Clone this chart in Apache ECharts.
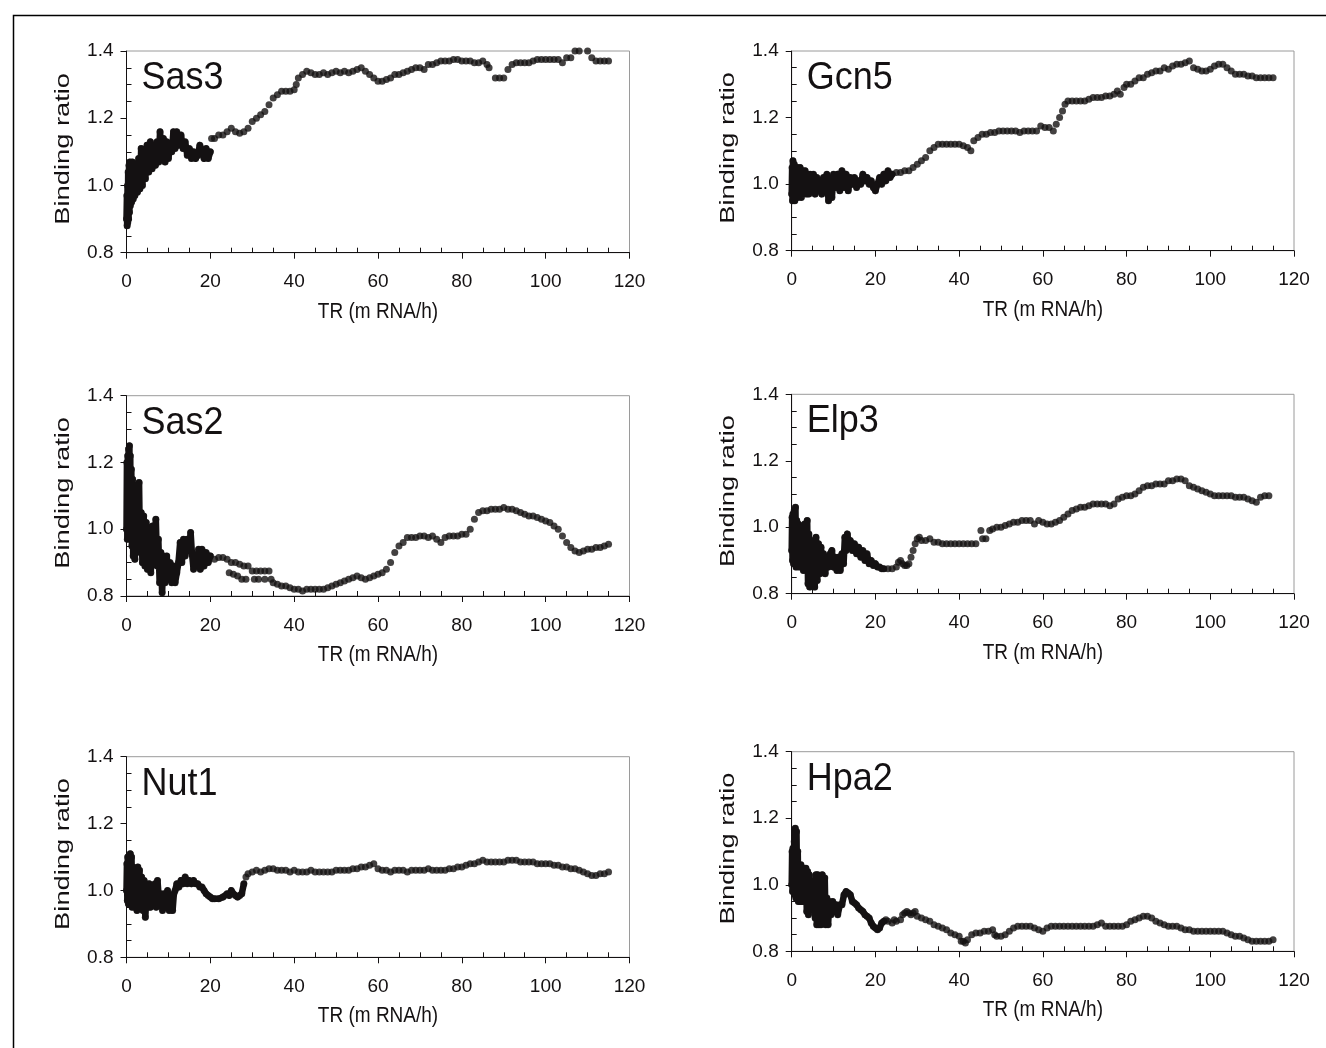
<!DOCTYPE html>
<html>
<head>
<meta charset="utf-8">
<script src="https://cdn.jsdelivr.net/npm/echarts@6/dist/echarts.min.js"></script>
<style>html,body{margin:0;padding:0;background:#fff}#main{width:1326px;height:1048px}</style>
</head>
<body>
<div id="main"></div>
<script>
// running binding ratio vs transcription rate, one array per factor
var sas3 = [[0,0.90],[0.1,0.97],[0.15,0.88],[0.25,1.0],[0.3,0.89],[0.4,1.04],[0.5,0.90],[0.6,1.06],[0.7,0.92],[0.8,1.07],[0.9,0.94],[1.0,1.05],[1.2,0.95],[1.4,1.07],[1.6,0.96],[1.8,1.06],[2.0,0.97],[2.3,1.05],[2.6,0.98],[2.9,1.08],[3.2,0.99],[3.5,1.11],[3.8,1.0],[4.1,1.10],[4.5,1.02],[4.9,1.12],[5.3,1.04],[5.7,1.13],[6.1,1.05],[6.5,1.12],[6.9,1.06],[7.3,1.13],[7.7,1.07],[8.0,1.16],[8.4,1.08],[8.8,1.14],[9.2,1.07],[9.6,1.13],[10,1.08],[10.4,1.12],[10.8,1.10],[11.2,1.16],[11.6,1.11],[12,1.16],[12.5,1.12],[13,1.15],[13.5,1.11],[14,1.13],[14.5,1.09],[15,1.11],[15.5,1.08],[16,1.10],[16.5,1.08],[17,1.09],[17.5,1.12],[18,1.10],[18.5,1.08],[19,1.11],[19.5,1.08],[20,1.10],[20.3,1.14],[21,1.14],[22,1.15],[23,1.15],[24,1.16],[25,1.17],[26,1.16],[27,1.155],[28,1.16],[29,1.17],[30,1.19],[31,1.20],[32,1.21],[33,1.22],[34,1.24],[35,1.26],[36,1.27],[37,1.28],[38,1.28],[39,1.28],[40,1.285],[40.5,1.30],[41,1.32],[42,1.33],[43,1.34],[44,1.335],[45,1.33],[46,1.33],[47,1.335],[48,1.33],[49,1.335],[50,1.34],[51,1.335],[52,1.34],[53,1.335],[54,1.34],[55,1.345],[56,1.35],[57,1.34],[58,1.33],[59,1.32],[60,1.31],[61,1.31],[62,1.315],[63,1.32],[64,1.33],[65,1.33],[66,1.335],[67,1.34],[68,1.345],[69,1.35],[70,1.35],[71,1.345],[72,1.36],[73,1.36],[74,1.365],[75,1.37],[76,1.37],[77,1.37],[78,1.375],[79,1.375],[80,1.37],[81,1.37],[82,1.37],[83,1.365],[84,1.365],[85,1.37],[86,1.36],[86.5,1.35],[88,1.32],[89,1.32],[90,1.32],[91,1.345],[92,1.36],[93,1.365],[94,1.365],[95,1.365],[96,1.365],[97,1.37],[98,1.375],[99,1.375],[100,1.375],[101,1.375],[102,1.375],[103,1.375],[104,1.365],[105,1.38],[106,1.38],[107,1.40],[108,1.40],[110,1.40],[111,1.38],[112,1.37],[113,1.37],[114,1.37],[115,1.37]];

var gcn5 = [[0,0.97],[0.1,1.05],[0.2,0.95],[0.3,1.07],[0.45,0.96],[0.6,1.06],[0.75,0.95],[0.9,1.05],[1.05,0.97],[1.2,1.05],[1.4,0.96],[1.6,1.04],[1.8,0.97],[2.0,1.05],[2.3,0.96],[2.6,1.04],[2.9,0.98],[3.2,1.04],[3.5,0.97],[3.8,1.03],[4.1,0.97],[4.4,1.03],[4.8,0.98],[5.2,1.03],[5.6,0.97],[6.0,1.02],[6.4,0.98],[6.8,1.01],[7.2,0.97],[7.6,1.02],[8.0,0.98],[8.4,1.03],[8.8,0.95],[9.2,1.0],[9.6,0.96],[10,1.03],[10.5,0.99],[11,1.03],[11.5,0.98],[12,1.04],[12.5,0.99],[13,1.03],[13.5,0.98],[14,1.02],[14.5,1.0],[15,1.02],[15.5,0.99],[16,1.01],[16.5,1.0],[17,1.03],[17.5,1.01],[18,1.02],[18.5,1.0],[19,1.01],[19.5,0.99],[20,0.98],[20.5,1.0],[21,1.02],[21.5,1.0],[22,1.03],[22.5,1.01],[23,1.04],[23.5,1.02],[24,1.03],[25,1.035],[26,1.035],[27,1.04],[28,1.04],[29,1.05],[30,1.06],[31,1.07],[32,1.08],[33,1.10],[34,1.11],[35,1.12],[36,1.12],[37,1.12],[38,1.12],[39,1.12],[40,1.12],[41,1.115],[42,1.11],[42.8,1.10],[43.5,1.13],[44.5,1.14],[45.5,1.15],[46.5,1.15],[47.5,1.155],[48.5,1.155],[49.5,1.16],[50.5,1.16],[51.5,1.16],[52.5,1.16],[53.5,1.16],[54.5,1.155],[55.5,1.16],[56.5,1.16],[57.5,1.16],[58.5,1.16],[59.5,1.175],[60.5,1.17],[61.5,1.17],[62.5,1.16],[63.2,1.18],[64,1.20],[64.7,1.22],[65.3,1.24],[66,1.25],[67,1.25],[68,1.25],[69,1.25],[70,1.25],[71,1.255],[72,1.26],[73,1.26],[74,1.26],[75,1.265],[76,1.265],[77,1.27],[77.8,1.28],[78.5,1.27],[79.4,1.29],[80,1.30],[81,1.30],[82,1.31],[83,1.32],[84,1.32],[85,1.33],[86,1.335],[87,1.34],[88,1.34],[89,1.35],[90,1.345],[91,1.355],[92,1.36],[93,1.36],[94,1.365],[95,1.37],[96,1.35],[97,1.345],[98,1.34],[99,1.34],[100,1.345],[101,1.355],[102,1.36],[103,1.36],[104,1.35],[105,1.34],[106,1.33],[107,1.33],[108,1.33],[109,1.325],[110,1.325],[111,1.32],[112,1.32],[113,1.32],[114,1.32],[115,1.32]];

var sas2 = [[0,1.0],[0.1,1.2],[0.2,0.97],[0.3,1.22],[0.4,0.98],[0.5,1.24],[0.6,1.0],[0.7,1.25],[0.8,0.99],[0.9,1.22],[1.0,0.98],[1.15,1.18],[1.3,0.95],[1.45,1.15],[1.6,0.92],[1.8,1.12],[2.0,0.91],[2.2,1.08],[2.4,0.93],[2.6,1.10],[2.8,0.96],[3.0,1.14],[3.2,0.95],[3.5,1.05],[3.8,0.90],[4.1,1.04],[4.4,0.89],[4.7,1.02],[5.0,0.88],[5.4,1.00],[5.8,0.87],[6.2,1.01],[6.6,0.90],[7.0,1.03],[7.3,0.89],[7.6,0.97],[7.9,0.84],[8.2,0.93],[8.5,0.81],[8.8,0.92],[9.2,0.84],[9.6,0.92],[10,0.85],[10.4,0.90],[10.8,0.84],[11.2,0.89],[11.6,0.84],[12,0.87],[12.4,0.90],[12.8,0.96],[13.2,0.90],[13.6,0.97],[14,0.92],[14.5,0.97],[15,0.95],[15.3,0.99],[15.6,0.93],[16,0.88],[16.4,0.92],[16.8,0.89],[17.2,0.94],[17.6,0.88],[18,0.94],[18.5,0.89],[19,0.93],[19.5,0.90],[20,0.92],[21,0.91],[22,0.915],[23,0.915],[24,0.91],[25,0.90],[26,0.90],[27,0.895],[28,0.89],[29,0.89],[30,0.875],[31,0.875],[32,0.875],[33,0.875],[34,0.875],[24.5,0.87],[25.5,0.865],[26.5,0.86],[27.5,0.85],[28.5,0.85],[30.5,0.85],[31.5,0.85],[33,0.85],[34.5,0.85],[35,0.84],[36,0.835],[37,0.83],[38,0.83],[39,0.825],[40,0.82],[41,0.82],[42,0.815],[43,0.82],[44,0.82],[45,0.82],[46,0.82],[47,0.82],[48,0.825],[49,0.83],[50,0.835],[51,0.84],[52,0.845],[53,0.85],[54,0.855],[55,0.86],[56,0.855],[57,0.85],[58,0.855],[59,0.86],[60,0.865],[61,0.87],[62,0.88],[63,0.90],[64,0.93],[65,0.95],[66,0.96],[67,0.975],[68,0.975],[69,0.975],[70,0.98],[71,0.98],[72,0.975],[73,0.98],[74,0.97],[75,0.96],[76,0.975],[77,0.98],[78,0.98],[79,0.98],[80,0.985],[81,0.985],[82,1.0],[83,1.03],[84,1.05],[85,1.055],[86,1.055],[87,1.06],[88,1.06],[89,1.06],[90,1.065],[91,1.06],[92,1.06],[93,1.055],[94,1.05],[95,1.045],[96,1.04],[97,1.04],[98,1.035],[99,1.03],[100,1.025],[101,1.02],[102,1.01],[103,1.0],[104,0.98],[105,0.96],[106,0.945],[107,0.935],[108,0.93],[109,0.935],[110,0.94],[111,0.94],[112,0.945],[113,0.945],[114,0.95],[115,0.955]];

var elp3 = [[0,0.93],[0.1,1.03],[0.2,0.90],[0.3,1.04],[0.45,0.89],[0.6,1.05],[0.75,0.90],[0.9,1.06],[1.05,0.88],[1.2,1.02],[1.4,0.89],[1.6,1.01],[1.8,0.88],[2.0,1.0],[2.2,0.89],[2.5,1.0],[2.8,0.87],[3.1,1.01],[3.4,0.88],[3.7,1.02],[3.9,0.83],[4.1,0.98],[4.3,0.82],[4.6,0.96],[4.9,0.84],[5.2,0.95],[5.5,0.82],[5.8,0.97],[6.1,0.84],[6.4,0.95],[6.7,0.86],[7.0,0.94],[7.3,0.87],[7.6,0.92],[8.0,0.86],[8.4,0.91],[8.8,0.88],[9.2,0.92],[9.6,0.93],[10,0.88],[10.4,0.91],[10.8,0.87],[11.2,0.91],[11.6,0.87],[12,0.92],[12.4,0.89],[12.7,0.97],[13,0.93],[13.3,0.98],[13.6,0.95],[14,0.96],[14.5,0.93],[15,0.95],[15.5,0.92],[16,0.94],[16.5,0.91],[17,0.93],[17.5,0.90],[18,0.92],[18.5,0.89],[19,0.90],[19.5,0.885],[20,0.89],[20.5,0.88],[21,0.88],[21.5,0.875],[22,0.875],[23,0.875],[24,0.875],[25,0.88],[25.5,0.895],[26,0.90],[26.5,0.89],[27,0.885],[27.5,0.885],[28,0.89],[28.5,0.91],[29,0.93],[29.5,0.95],[30,0.965],[30.5,0.97],[31,0.96],[32,0.96],[33,0.965],[34,0.955],[35,0.955],[36,0.95],[37,0.95],[38,0.95],[39,0.95],[40,0.95],[41,0.95],[42,0.95],[43,0.95],[44,0.95],[45.2,0.99],[45.6,0.965],[46.4,0.965],[47.3,0.99],[48,0.995],[49,1.0],[50,1.0],[51,1.005],[52,1.01],[53,1.015],[54,1.015],[55,1.02],[56,1.02],[57,1.02],[58,1.01],[59,1.02],[60,1.015],[61,1.01],[62,1.01],[63,1.015],[64,1.02],[65,1.03],[66,1.04],[67,1.05],[68,1.055],[69,1.06],[70,1.06],[71,1.065],[72,1.07],[73,1.07],[74,1.07],[75,1.07],[76,1.065],[77,1.07],[78,1.085],[79,1.09],[80,1.095],[81,1.095],[82,1.10],[83,1.11],[84,1.12],[85,1.125],[86,1.125],[87,1.13],[88,1.13],[89,1.13],[90,1.14],[91,1.14],[92,1.145],[93,1.145],[94,1.14],[95,1.125],[96,1.12],[97,1.115],[98,1.11],[99,1.105],[100,1.1],[101,1.095],[102,1.095],[103,1.095],[104,1.095],[105,1.095],[106,1.09],[107,1.09],[108,1.09],[109,1.085],[110,1.08],[111,1.075],[112,1.09],[113,1.095],[114,1.095]];

var nut1 = [[0,1.0],[0.1,1.08],[0.2,0.97],[0.3,1.10],[0.45,0.96],[0.6,1.09],[0.75,0.97],[0.9,1.11],[1.05,0.96],[1.2,1.10],[1.35,0.95],[1.5,1.07],[1.7,0.96],[1.9,1.06],[2.1,0.95],[2.3,1.05],[2.5,0.94],[2.7,1.07],[2.9,0.95],[3.1,1.06],[3.3,0.95],[3.6,1.04],[3.9,0.94],[4.2,1.03],[4.5,0.92],[4.8,1.01],[5.1,0.95],[5.4,1.02],[5.7,0.95],[6.0,1.0],[6.4,0.96],[6.8,1.02],[7.1,0.95],[7.4,1.03],[7.8,0.96],[8.2,0.99],[8.6,0.94],[9.0,0.99],[9.4,0.95],[9.8,1.0],[10.2,0.94],[10.6,0.98],[11,0.94],[11.3,0.99],[11.6,1.0],[12,1.02],[12.5,1.01],[13,1.03],[13.5,1.02],[14,1.04],[14.5,1.02],[15,1.03],[15.5,1.02],[16,1.03],[16.5,1.02],[17,1.02],[17.5,1.01],[18,1.01],[18.5,1.0],[19,0.99],[19.5,0.985],[20,0.98],[20.5,0.975],[21,0.975],[22,0.975],[23,0.98],[24,0.99],[24.5,0.985],[25,1.0],[25.5,0.99],[26,0.985],[26.5,0.98],[27,0.985],[27.5,0.99],[28,1.02],[28.5,1.04],[29,1.05],[30,1.055],[31,1.06],[32,1.055],[33,1.06],[34,1.065],[35,1.065],[36,1.06],[37,1.06],[38,1.06],[39,1.055],[40,1.06],[41,1.055],[42,1.055],[43,1.055],[44,1.06],[45,1.055],[46,1.055],[47,1.055],[48,1.055],[49,1.055],[50,1.06],[51,1.06],[52,1.06],[53,1.06],[54,1.065],[55,1.065],[56,1.07],[57,1.07],[58,1.075],[59,1.08],[60,1.065],[61,1.06],[62,1.06],[63,1.055],[64,1.06],[65,1.06],[66,1.06],[67,1.055],[68,1.06],[69,1.06],[70,1.06],[71,1.06],[72,1.065],[73,1.06],[74,1.06],[75,1.06],[76,1.06],[77,1.065],[78,1.065],[79,1.07],[80,1.07],[81,1.075],[82,1.08],[83,1.08],[84,1.085],[85,1.09],[86,1.085],[87,1.085],[88,1.085],[89,1.085],[90,1.085],[91,1.09],[92,1.09],[93,1.09],[94,1.085],[95,1.085],[96,1.085],[97,1.085],[98,1.08],[99,1.08],[100,1.08],[101,1.08],[102,1.075],[103,1.075],[104,1.07],[105,1.07],[106,1.065],[107,1.065],[108,1.06],[109,1.055],[110,1.05],[111,1.045],[112,1.045],[113,1.05],[114,1.05],[115,1.055]];

var hpa2 = [[0,1.0],[0.1,1.10],[0.2,0.98],[0.3,1.11],[0.45,0.98],[0.6,1.13],[0.75,0.97],[0.85,1.17],[1.0,0.96],[1.15,1.16],[1.3,0.96],[1.45,1.10],[1.6,0.95],[1.8,1.06],[2.0,0.95],[2.2,1.06],[2.4,0.95],[2.6,1.05],[2.8,0.95],[3.0,1.05],[3.2,0.96],[3.4,1.05],[3.6,0.92],[3.8,1.04],[4.0,0.91],[4.2,1.03],[4.5,0.93],[4.8,1.01],[5.1,0.94],[5.4,1.0],[5.6,0.90],[5.8,1.03],[6.0,0.88],[6.2,1.03],[6.5,0.88],[6.8,0.99],[7.0,0.88],[7.3,1.03],[7.6,0.91],[7.9,1.02],[8.1,0.88],[8.4,0.96],[8.7,0.88],[9.0,0.95],[9.4,0.91],[9.8,0.95],[10.2,0.92],[10.6,0.94],[11,0.91],[11.5,0.94],[12,0.94],[12.5,0.97],[13,0.98],[13.5,0.975],[14,0.97],[14.5,0.95],[15,0.945],[15.5,0.94],[16,0.93],[16.5,0.925],[17,0.92],[17.5,0.91],[18,0.905],[18.5,0.9],[19,0.885],[19.5,0.875],[20,0.87],[20.5,0.865],[21,0.87],[21.5,0.885],[22,0.89],[22.5,0.895],[23,0.89],[24,0.885],[24.5,0.895],[25,0.89],[26,0.895],[26.5,0.91],[27,0.915],[27.5,0.92],[28,0.915],[28.5,0.91],[29,0.915],[29.5,0.92],[30,0.905],[31,0.90],[32,0.895],[33,0.89],[34,0.88],[35,0.875],[36,0.87],[37,0.865],[38,0.855],[39,0.85],[40,0.845],[40.5,0.83],[41,0.83],[41.5,0.825],[42,0.835],[43,0.85],[44,0.855],[45,0.855],[46,0.86],[47,0.86],[48,0.865],[48.5,0.85],[49,0.845],[50,0.845],[51,0.85],[52,0.86],[53,0.87],[54,0.875],[55,0.875],[56,0.875],[57,0.875],[58,0.87],[59,0.865],[60,0.86],[61,0.87],[62,0.875],[63,0.875],[64,0.875],[65,0.875],[66,0.875],[67,0.875],[68,0.875],[69,0.875],[70,0.875],[71,0.875],[72,0.875],[73,0.88],[74,0.885],[75,0.875],[76,0.875],[77,0.875],[78,0.875],[79,0.875],[80,0.88],[81,0.89],[82,0.895],[83,0.90],[84,0.905],[85,0.905],[86,0.9],[87,0.89],[88,0.885],[89,0.88],[90,0.875],[91,0.875],[92,0.875],[93,0.87],[94,0.865],[95,0.865],[96,0.86],[97,0.86],[98,0.86],[99,0.86],[100,0.86],[101,0.86],[102,0.86],[103,0.86],[104,0.855],[105,0.85],[106,0.845],[107,0.845],[108,0.84],[109,0.835],[110,0.83],[111,0.83],[112,0.83],[113,0.83],[114,0.83],[115,0.835]];

var names = ['Sas3', 'Gcn5', 'Sas2', 'Elp3', 'Nut1', 'Hpa2'];
var sets = [sas3, gcn5, sas2, elp3, nut1, hpa2];
// x up to which the points overlap into a solid band
var denseEnd = [20, 24, 20, 22, 28, 22];
var xTicks = {min: 0, max: 120, step: 20};
var yTicks = {min: 0.8, max: 1.4, step: 0.2};
var xTitle = 'TR (m RNA/h)';
var yTitle = 'Binding ratio';

var boxes = [
  {left: 126.5, top: 51, width: 503, height: 201.7},
  {left: 791.7, top: 51, width: 502.3, height: 199.7},
  {left: 126.5, top: 395.7, width: 503, height: 200.3},
  {left: 791.7, top: 394.3, width: 502.3, height: 199.4},
  {left: 126.5, top: 756.7, width: 503, height: 200.6},
  {left: 791.7, top: 751.7, width: 502.3, height: 199.6}
];

var ink = '#141112';
var font = '"Liberation Sans", Arial, Helvetica, sans-serif';

var myChart = echarts.init(document.getElementById('main'));
var grids = [], xAxes = [], yAxes = [], series = [];
var graphics = [{
  type: 'rect', left: 11, top: 13, silent: true,
  shape: {width: 1400, height: 1100},
  style: {fill: 'none', stroke: '#000', lineWidth: 1.5}
}];

boxes.forEach(function (b, i) {
  grids.push({left: b.left, top: b.top, width: b.width, height: b.height,
    show: true, borderColor: '#9a9a9a', borderWidth: 1});
  xAxes.push({
    gridIndex: i, type: 'value', min: xTicks.min, max: xTicks.max, interval: xTicks.step,
    axisLine: {lineStyle: {color: ink, width: 1}},
    axisTick: {length: 6, lineStyle: {color: ink}},
    minorTick: {show: true, splitNumber: 4, length: -5, lineStyle: {color: ink}},
    axisLabel: {fontSize: 19, color: ink, fontFamily: font, margin: 20},
    splitLine: {show: false}
  });
  yAxes.push({
    gridIndex: i, type: 'value', min: yTicks.min, max: yTicks.max, interval: yTicks.step,
    axisLine: {lineStyle: {color: ink, width: 1}},
    axisTick: {length: 6, lineStyle: {color: ink}},
    minorTick: {show: true, splitNumber: 4, length: -5, lineStyle: {color: ink}},
    axisLabel: {fontSize: 19, color: ink, fontFamily: font, margin: 13,
      formatter: function (v) { return v.toFixed(1); }},
    splitLine: {show: false}
  });
  graphics.push({
    type: 'text', x: b.left + 15, y: b.top + 27, scaleY: 1.1, silent: true,
    style: {text: names[i], font: '36px ' + font, fill: ink, align: 'left', verticalAlign: 'middle'}
  });
  graphics.push({
    type: 'text', x: b.left + b.width / 2, y: b.top + b.height + 59, scaleY: 1.15, silent: true,
    style: {text: xTitle, font: '19px ' + font, fill: ink, align: 'center', verticalAlign: 'middle'}
  });
  graphics.push({
    type: 'text', x: b.left - 63, y: b.top + b.height / 2 - 3, rotation: Math.PI / 2,
    scaleX: 1.3, silent: true,
    style: {text: yTitle, font: '21px ' + font, fill: ink, align: 'center', verticalAlign: 'middle'}
  });
  series.push({
    type: 'line', xAxisIndex: i, yAxisIndex: i, symbol: 'none', silent: true,
    data: sets[i].filter(function (p) { return p[0] <= denseEnd[i]; }),
    lineStyle: {color: ink, width: 6.5, cap: 'round', join: 'round'}
  });
  series.push({
    type: 'scatter', xAxisIndex: i, yAxisIndex: i, symbol: 'circle', symbolSize: 7,
    clip: false, data: sets[i], itemStyle: {color: ink}
  });
});

option = {
  backgroundColor: '#fff',
  animation: false,
  grid: grids,
  xAxis: xAxes,
  yAxis: yAxes,
  series: series,
  graphic: graphics
};
myChart.setOption(option);
</script>
</body>
</html>
